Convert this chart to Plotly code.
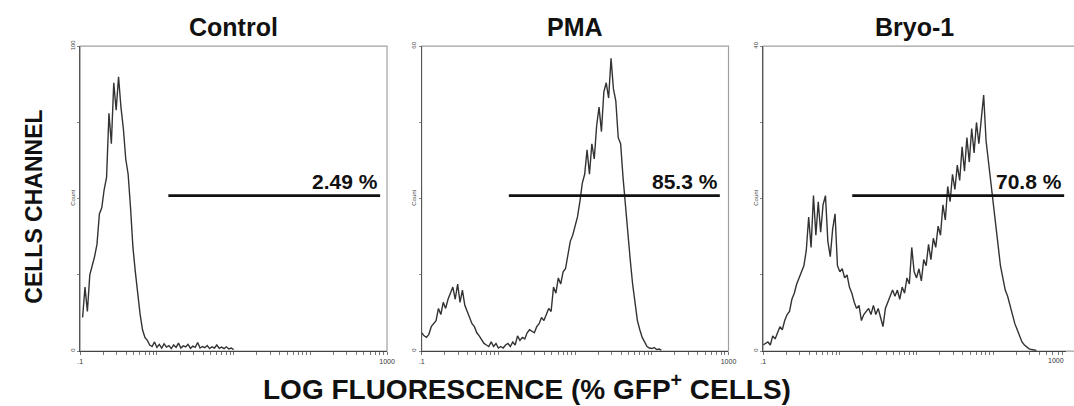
import numpy as np
import plotly.graph_objects as go

# ---------------- data ----------------
panel_titles = ["Control", "PMA", "Bryo-1"]
gate_labels = ["2.49 %", "85.3 %", "70.8 %"]
y_full_scale = [100, 60, 40]
y_top_labels = ["100", "60", "40"]

# histogram counts, one value per 8-channel bin (1024 channels = 4 log decades)
channel_step = 8
first_channel = [8, 0, 0]

control_counts = [11, 21, 13, 25, 28, 31, 35, 45, 47, 53,
                  57, 78, 68, 88, 79, 90, 80, 73, 63, 58,
                  47, 34, 26, 18, 12, 7, 4.5, 3.5, 2, 1.5,
                  3, 1.2, 2.2, 1, 2.4, 1.3, 1.8, 0.8, 2.0, 1.2,
                  2.6, 1.0, 1.7, 1.4, 2.2, 0.9, 1.6, 1.2, 2.8, 1.0,
                  1.5, 1.1, 1.8, 0.8, 1.4, 1.0, 2.0, 0.9, 1.3, 0.8,
                  1.4, 0.7, 1.0, 0.5]

pma_counts = [3.6, 3.0, 2.7, 3.3, 4.8, 5.4, 6.0, 8.4, 7.2, 9.6,
              8.4, 10.2, 11.4, 12.6, 10.2, 13.2, 9.6, 12.0, 9.0, 7.8,
              6.6, 5.4, 4.8, 3.6, 3.0, 2.1, 1.5, 1.2, 0.9, 1.8,
              0.9, 1.5, 0.6, 0.9, 0.6, 1.2, 1.5, 0.9, 1.8, 1.2,
              3.0, 2.1, 2.7, 2.4, 3.6, 4.2, 3.9, 3.6, 4.8, 5.4,
              6.6, 6.0, 7.2, 8.4, 7.8, 12.6, 11.4, 14.4, 13.2, 15.6,
              16.2, 19.2, 21.6, 22.8, 24.6, 26.4, 29.4, 33.0, 34.8, 39.6,
              34.8, 40.8, 37.8, 44.4, 48.0, 43.2, 51.0, 52.8, 49.8, 57.6,
              51.6, 49.2, 42.0, 40.8, 34.2, 28.2, 22.8, 18.0, 13.2, 9.0,
              6.0, 4.2, 2.7, 1.8, 0.9, 0.6, 0.5, 0.7, 0.3, 0.4, 0.2]

bryo_counts = [0.8, 1.0, 1.2, 0.8, 2.0, 1.6, 2.4, 3.2, 2.8, 4.0,
               4.8, 5.2, 6.8, 7.6, 8.8, 9.6, 10.4, 11.2, 13.2, 17.6,
               13.6, 20.4, 15.2, 19.6, 15.6, 19.2, 20.4, 14.4, 12.4, 16.0,
               18.0, 11.2, 10.4, 10.8, 9.6, 10.0, 8.4, 7.6, 6.4, 5.6,
               6.0, 4.0, 4.8, 5.2, 5.6, 4.8, 6.0, 4.8, 5.6, 4.4,
               3.2, 5.6, 6.4, 7.2, 8.0, 7.2, 8.0, 6.8, 8.4, 7.6,
               9.6, 8.8, 13.6, 10.4, 9.6, 10.8, 9.2, 12.0, 11.2, 14.0,
               12.0, 14.8, 13.6, 16.4, 15.2, 19.2, 17.2, 21.6, 19.6, 23.2,
               21.2, 24.4, 22.4, 26.8, 23.6, 28.0, 24.8, 29.2, 26.0, 30.0,
               27.2, 30.4, 33.6, 27.6, 24.8, 21.6, 18.8, 16.0, 13.2, 11.2,
               9.6, 8.0, 7.2, 6.0, 4.8, 3.6, 2.8, 2.0, 1.2, 0.8,
               0.5, 0.3, 0.2, 0.1, 0.1]

# marker (gate) region: fluorescence start/end and height in counts
gate_start = [1.41, 1.37, 1.45]
gate_end = [813, 771, 840]
gate_height = [51, 30.6, 20.4]

# --------------- figure ---------------
W, H = 1074, 406
counts_all = [control_counts, pma_counts, bryo_counts]

def to_fluor(ch):
    # 1024-channel, 4-decade log amplifier starting at 0.1
    return 0.1 * 10 ** (np.asarray(ch) / 256.0)

x_domains = [[78 / W, 388 / W], [423 / W, 733 / W], [768 / W, 1.0]]
x_ranges = [[-1, 3], [-1, 3], [-1, -1 + 4 * 306 / 310]]
y_domain = [55 / H, 366 / H]

tick_vals = [m * 10 ** d for d in range(-1, 3) for m in range(1, 10)] + [1000]
tick_text = [".1" if v == 0.1 else ("1000" if v == 1000 else "") for v in tick_vals]

fig = go.Figure()
font_family = "Liberation Sans, Arial, sans-serif"

for i in range(3):
    xa = "x" if i == 0 else f"x{i+1}"
    ya = "y" if i == 0 else f"y{i+1}"
    counts = counts_all[i]
    ch = first_channel[i] + channel_step * np.arange(len(counts))
    fig.add_trace(go.Scatter(x=to_fluor(ch), y=counts, mode="lines",
                             line=dict(color="#333333", width=1.4),
                             xaxis=xa, yaxis=ya, showlegend=False, hoverinfo="skip"))
    fig.add_trace(go.Scatter(x=[gate_start[i], gate_end[i]],
                             y=[gate_height[i], gate_height[i]], mode="lines",
                             line=dict(color="#111111", width=2.6),
                             xaxis=xa, yaxis=ya, showlegend=False, hoverinfo="skip"))

    ymax = y_full_scale[i]
    xkey = "xaxis" if i == 0 else f"xaxis{i+1}"
    ykey = "yaxis" if i == 0 else f"yaxis{i+1}"
    fig.layout[xkey] = dict(domain=x_domains[i], type="log", range=x_ranges[i],
                            anchor=ya, showgrid=False, zeroline=False,
                            showline=True, linecolor="#444", linewidth=1.2,
                            ticks="outside", ticklen=3, tickwidth=1, tickcolor="#777",
                            tickvals=tick_vals, ticktext=tick_text, tickangle=0,
                            tickfont=dict(size=7, color="#333", family=font_family),
                            fixedrange=True)
    fig.layout[ykey] = dict(domain=y_domain, range=[0, ymax], anchor=xa,
                            showgrid=False, zeroline=False,
                            showline=True, linecolor="#555", linewidth=1.2,
                            ticks="outside", ticklen=2, tickwidth=1, tickcolor="#888",
                            tickvals=[0, ymax / 4, ymax / 2, 3 * ymax / 4, ymax],
                            ticktext=["0", "", "Count", "", y_top_labels[i]],
                            tickangle=-90,
                            tickfont=dict(size=6, color="#444", family=font_family),
                            fixedrange=True)
    # grey frame around each panel
    fig.add_shape(type="rect", xref=f"{xa} domain", yref=f"{ya} domain",
                  x0=0, x1=1.0 if i < 2 else 1.05, y0=0, y1=1,
                  line=dict(color="#a0a0a0", width=1.2), layer="below")
    # gate percentage label
    fig.add_annotation(x=np.log10(gate_end[i]), y=gate_height[i], xref=xa, yref=ya,
                       text=f"<b>{gate_labels[i]}</b>", showarrow=False,
                       xanchor="right", yanchor="bottom", yshift=1,
                       font=dict(size=21, color="#111", family=font_family))
    # panel title
    fig.add_annotation(x=0.5, y=(H - 20) / H, xref=f"{xa} domain", yref="paper",
                       text=f"<b>{panel_titles[i]}</b>", showarrow=False,
                       xanchor="center", yanchor="middle",
                       font=dict(size=25, color="#111", family=font_family))

# right-hand "1000" of the last panel (axis end lies at the image edge)
fig.add_annotation(x=1.0, y=y_domain[0], xref="paper", yref="paper",
                   text="1000", showarrow=False, xanchor="right", yanchor="top",
                   yshift=-4, font=dict(size=7, color="#333", family=font_family))

fig.add_annotation(x=31 / W, y=(H - 204) / H, xref="paper", yref="paper",
                   text="<b>CELLS CHANNEL</b>", textangle=-90, showarrow=False,
                   xanchor="center", yanchor="middle",
                   font=dict(size=23, color="#111", family=font_family))
fig.add_annotation(x=529 / W, y=(H - 388) / H, xref="paper", yref="paper",
                   text="<b>LOG FLUORESCENCE (% GFP<sup>+</sup> CELLS)</b>", showarrow=False,
                   xanchor="center", yanchor="middle",
                   font=dict(size=28, color="#111", family=font_family))

fig.update_layout(width=W, height=H, autosize=False,
                  margin=dict(l=0, r=0, t=0, b=0),
                  paper_bgcolor="white", plot_bgcolor="white")

fig.write_html("out.html", config={"displayModeBar": False})
